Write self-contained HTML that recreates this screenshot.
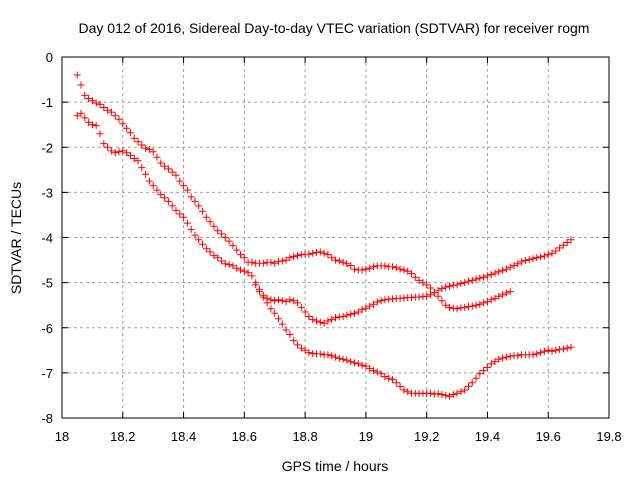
<!DOCTYPE html>
<html><head><meta charset="utf-8"><style>
body{margin:0;background:#fff;}
svg{display:block;font-family:"Liberation Sans",sans-serif;}
</style></head><body>
<svg id="chart" width="640" height="480" viewBox="0 0 640 480">
<text x="334" y="33" font-size="14" text-anchor="middle">Day 012 of 2016, Sidereal Day-to-day VTEC variation (SDTVAR) for receiver rogm</text>
<text x="335" y="471" font-size="14" text-anchor="middle">GPS time / hours</text>
<text x="0" y="0" font-size="14" text-anchor="middle" transform="translate(21,238) rotate(-90)">SDTVAR / TECUs</text>
<g id="grid"></g>
<g id="ticks"></g>
<g id="marks"></g>
<rect x="62" y="57" width="547" height="361" fill="none" stroke="#000" stroke-width="1"/>
</svg>
<script>
const xTicks = [18, 18.2, 18.4, 18.6, 18.8, 19, 19.2, 19.4, 19.6, 19.8];
const xTickLabels = ["18", "18.2", "18.4", "18.6", "18.8", "19", "19.2", "19.4", "19.6", "19.8"];
const yTicks = [0, -1, -2, -3, -4, -5, -6, -7, -8];
const yTickLabels = ["0", "-1", "-2", "-3", "-4", "-5", "-6", "-7", "-8"];
const sampleStep = 0.0125;
const seriesAStart = 18.05;
const seriesAValues = [-0.40,-0.62,-0.85,-0.92,-0.97,-1.02,-1.05,-1.12,-1.18,-1.22,-1.30,-1.38,-1.48,-1.58,-1.68,-1.80,-1.88,-1.95,-2.02,-2.05,-2.10,-2.22,-2.35,-2.42,-2.48,-2.55,-2.62,-2.75,-2.85,-2.95,-3.10,-3.20,-3.30,-3.42,-3.55,-3.65,-3.75,-3.85,-3.92,-4.00,-4.08,-4.18,-4.28,-4.38,-4.45,
-4.55,-4.55,-4.57,-4.57,-4.57,-4.55,-4.55,-4.57,-4.53,-4.52,-4.50,-4.45,-4.42,-4.40,-4.38,-4.37,-4.37,-4.35,-4.33,-4.32,-4.35,-4.38,-4.45,-4.50,-4.52,-4.55,-4.58,-4.62,-4.70,-4.72,-4.72,-4.70,-4.68,-4.65,-4.63,-4.63,-4.63,-4.65,-4.65,-4.67,-4.70,-4.72,-4.75,-4.80,-4.88,-4.95,-5.00,-5.05,-5.12,-5.22,-5.30,-5.40,-5.50,-5.55,-5.57,-5.58,-5.56,-5.55,-5.53,-5.52,-5.50,-5.48,-5.45,-5.42,-5.38,-5.35,-5.30,-5.27,-5.23,-5.20];
const seriesBStart = 18.05;
const seriesBValues = [-1.30,-1.25,-1.35,-1.45,-1.50,-1.52,-1.70,-1.92,-2.00,-2.08,-2.12,-2.10,-2.08,-2.12,-2.18,-2.25,-2.30,-2.45,-2.60,-2.75,-2.85,-2.95,-3.05,-3.12,-3.20,-3.30,-3.40,-3.48,-3.55,-3.68,-3.82,-3.95,-4.05,-4.15,-4.25,-4.32,-4.40,-4.45,-4.52,-4.58,-4.60,-4.63,-4.68,-4.72,-4.75,-4.78,-4.85,
-5.00,-5.15,-5.28,-5.35,-5.38,-5.40,-5.38,-5.40,-5.42,-5.38,-5.40,-5.45,-5.55,-5.65,-5.75,-5.82,-5.85,-5.88,-5.90,-5.85,-5.82,-5.78,-5.76,-5.75,-5.72,-5.70,-5.68,-5.65,-5.60,-5.57,-5.52,-5.48,-5.43,-5.40,-5.38,-5.37,-5.36,-5.35,-5.35,-5.34,-5.33,-5.33,-5.32,-5.32,-5.31,-5.30,-5.27,-5.22,-5.17,-5.13,-5.10,-5.08,-5.06,-5.05,-5.02,-5.00,-4.97,-4.95,-4.92,-4.90,-4.88,-4.85,-4.82,-4.79,-4.76,-4.73,-4.70,-4.66,-4.62,-4.58,-4.54,-4.51,-4.49,-4.47,-4.45,-4.43,-4.41,-4.38,-4.35,-4.30,-4.23,-4.17,-4.11,-4.05];
const seriesCStart = 18.6375;
const seriesCValues = [-5.05,-5.20,-5.32,-5.45,-5.58,-5.68,-5.80,-5.92,-6.05,-6.15,-6.28,-6.38,-6.45,-6.50,-6.55,-6.57,-6.58,-6.58,-6.60,-6.60,-6.62,-6.65,-6.68,-6.70,-6.72,-6.75,-6.78,-6.80,-6.83,-6.85,-6.90,-6.95,-6.98,-7.02,-7.08,-7.12,-7.15,-7.22,-7.30,-7.38,-7.42,-7.45,-7.45,-7.46,-7.45,-7.46,-7.45,-7.47,-7.46,-7.48,-7.50,-7.52,-7.48,-7.45,-7.42,-7.38,-7.30,-7.22,-7.12,-7.02,-6.95,-6.88,-6.80,-6.75,-6.70,-6.67,-6.65,-6.63,-6.62,-6.62,-6.60,-6.60,-6.60,-6.60,-6.58,-6.55,-6.52,-6.50,-6.52,-6.50,-6.48,-6.47,-6.45,-6.43];

const NS = "http://www.w3.org/2000/svg";
const L = 62, R = 609, T = 57, B = 418;
function xs(v){ return L + (v - 18) / 1.8 * (R - L); }
function ys(v){ return T + (0 - v) / 8 * (B - T); }
function mk(tag, attrs, parent){ const e = document.createElementNS(NS, tag); for (const k in attrs) e.setAttribute(k, attrs[k]); parent.appendChild(e); return e; }

const grid = document.getElementById('grid'), ticks = document.getElementById('ticks'), marks = document.getElementById('marks');
xTicks.forEach((t, i) => {
  const x = xs(t);
  if (i > 0 && i < xTicks.length - 1) {
    const g = mk('line', {x1:x, x2:x, y1:T, y2:B, stroke:'#a0a0a0', 'stroke-dasharray':'3,3'}, grid);
    
    
  }
  const tk = mk('path', {d:`M${x},${B}v-6M${x},${T}v6`, stroke:'#000'}, ticks);
  
  
  const lb = mk('text', {x:x, y:B + 23, 'font-size':13, 'text-anchor':'middle'}, ticks);
  lb.textContent = xTickLabels[i];
  
  
});
yTicks.forEach((t, i) => {
  const y = ys(t);
  if (i > 0 && i < yTicks.length - 1) {
    const g = mk('line', {x1:L, x2:R, y1:y, y2:y, stroke:'#a0a0a0', 'stroke-dasharray':'3,3'}, grid);
    
    
  }
  const tk = mk('path', {d:`M${L},${y}h6M${R},${y}h-6`, stroke:'#000'}, ticks);
  
  
  const lb = mk('text', {x:L - 9, y:y + 5, 'font-size':13, 'text-anchor':'end'}, ticks);
  lb.textContent = yTickLabels[i];
  
  
});
function drawSeries(start, vals, name){
  let d = '';
  vals.forEach((v, i) => {
    const x = xs(start + i * sampleStep), y = ys(v);
    d += `M${(x-3.5).toFixed(1)},${y.toFixed(1)}h7M${x.toFixed(1)},${(y-3.5).toFixed(1)}v7`;
  });
  const p = mk('path', {d:d, stroke:'#ff0000', 'stroke-width':1, fill:'none'}, marks);
  
  
}
drawSeries(seriesAStart, seriesAValues, 'series-a-points');
drawSeries(seriesBStart, seriesBValues, 'series-b-points');
drawSeries(seriesCStart, seriesCValues, 'series-c-points');
</script>
</body></html>
